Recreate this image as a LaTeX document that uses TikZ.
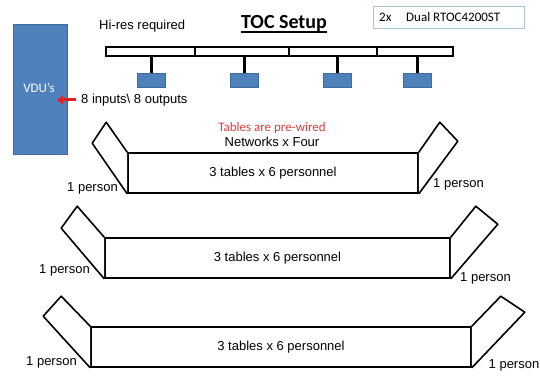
\documentclass[tikz,border=0pt]{standalone}
\usepackage{fontspec}
\setmainfont{Liberation Sans}
\newfontfamily\calfont{Carlito}
\usetikzlibrary{arrows.meta}
\definecolor{vdublue}{HTML}{4F81BD}
\definecolor{vduedge}{HTML}{41699A}
\definecolor{wirered}{HTML}{E23B3B}
\definecolor{arrowred}{HTML}{E51F1F}
\definecolor{boxedge}{HTML}{A9C3CF}
\tikzset{
  txt/.style={inner sep=0pt, font=\fontsize{13}{15}\selectfont},
  caltxt/.style={inner sep=0pt, font=\calfont\fontsize{13}{15}\selectfont},
  tablebox/.style={draw=black, line width=1.6pt, fill=white, minimum height=40pt, inner sep=0pt,
    font=\fontsize{13}{15}\selectfont},
  wing/.style={draw=black, line width=1.6pt, line join=round, fill=white},
  barseg/.style={draw=black, line width=1.2pt, fill=white, minimum height=9pt, inner sep=0pt},
  stem/.style={draw=black, line width=3pt},
  monitor/.style={draw=vduedge, line width=0.6pt, fill=vdublue, minimum width=28pt, minimum height=14pt, inner sep=0pt},
}
\begin{document}
\begin{tikzpicture}[x=1pt, y=-1pt]
\useasboundingbox (0,0) rectangle (540,382);

% video display wall
\node[draw=vduedge, line width=0.6pt, fill=vdublue, minimum width=54pt, minimum height=130pt, inner sep=0pt]
  (vdu) at (40,89) {};
\node[caltxt, text=white, anchor=base] (vdutext) at (39,93) {VDU’s};
\node[txt, anchor=base west] (io) at (81,104) {8 inputs\textbackslash{} 8 outputs};
\coordinate (arrowtip) at (57,100);
\draw[arrowred, line width=3pt, -{Triangle[length=6pt, width=9pt]}] (io.west |- arrowtip) ++(-5,0) coordinate (arrowtail) -- (arrowtip);

% heading and notes
\node[txt, anchor=base west] (hires) at (99,30) {Hi-res required};
\node[anchor=base, inner sep=0pt, font=\calfont\bfseries\fontsize{20}{22}\selectfont] (title) at (284,29) {TOC Setup};
\draw[black, line width=1.2pt] ([yshift=-3pt]title.base west) -- ([yshift=-3pt]title.base east);
\node[draw=boxedge, line width=0.8pt, minimum width=151pt, minimum height=22pt, inner sep=0pt] (model) at (448.5,17) {};
\node[caltxt, anchor=base west] (qty) at (379,22) {2x};
\node[caltxt, anchor=base west] (modeltext) at (406,22) {Dual RTOC4200ST};

% overhead bar with four hi-res monitors
\node[barseg, minimum width=89pt] (bar1) at (150.5,51.5) {};
\node[barseg, minimum width=94pt] (bar2) at (242,51.5) {};
\node[barseg, minimum width=88pt] (bar3) at (333,51.5) {};
\node[barseg, minimum width=76pt] (bar4) at (415,51.5) {};
\node[monitor] (mon1) at (151,80) {};
\node[monitor] (mon2) at (244,80) {};
\node[monitor] (mon3) at (337,80) {};
\node[monitor] (mon4) at (417,80) {};
\draw[stem] (mon1.north) -- (mon1.north |- bar1.south);
\draw[stem] (mon2.north) -- (mon2.north |- bar2.south);
\draw[stem] (mon3.north) -- (mon3.north |- bar3.south);
\draw[stem] (mon4.north) -- (mon4.north |- bar4.south);

\node[caltxt, text=wirered, anchor=base] (prewired) at (272,132) {Tables are pre-wired};
\node[txt, anchor=base] (networks) at (272,147) {Networks x Four};

% table row 1
\node[tablebox, minimum width=290pt] (t1) at (273,173) {3 tables x 6 personnel};
\draw[wing] (t1.north west) -- ++(-21,-30) -- ++(-14,21) -- (t1.south west);
\draw[wing] (t1.north east) -- ++(21,-30) -- ++(18,19) -- (t1.south east);
\node[txt, anchor=base east] (p1l) at (118,191) {1 person};
\node[txt, anchor=base west] (p1r) at (433,187) {1 person};

% table row 2
\node[tablebox, minimum width=345pt] (t2) at (277.5,258) {3 tables x 6 personnel};
\draw[wing] (t2.north west) -- ++(-27,-31) -- ++(-16,22) -- (t2.south west);
\draw[wing] (t2.north east) -- ++(25,-31) -- ++(22,18) -- (t2.south east);
\node[txt, anchor=base east] (p2l) at (90,273) {1 person};
\node[txt, anchor=base west] (p2r) at (460,281) {1 person};

% table row 3
\node[tablebox, minimum width=380pt] (t3) at (281,347) {3 tables x 6 personnel};
\draw[wing] (t3.north west) -- ++(-29,-30) -- ++(-18,20) -- (t3.south west);
\draw[wing] (t3.north east) -- ++(29,-30) -- ++(24,16) -- (t3.south east);
\node[txt, anchor=base east] (p3l) at (77,365) {1 person};
\node[txt, anchor=base west] (p3r) at (488.5,368) {1 person};
\end{tikzpicture}
\end{document}
